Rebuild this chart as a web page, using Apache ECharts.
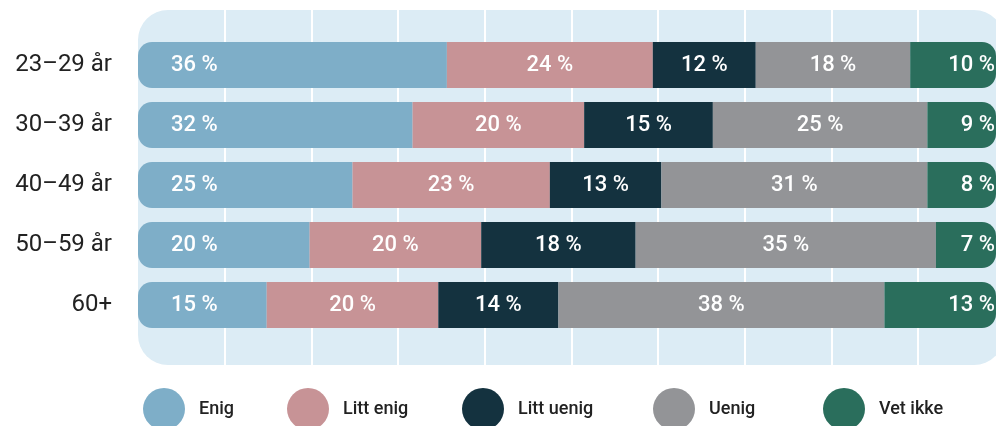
<!DOCTYPE html>
<html>
<head>
<meta charset="utf-8">
<script src="https://cdn.jsdelivr.net/npm/echarts@6/dist/echarts.min.js"></script>
<style>
  html, body { margin: 0; padding: 0; background: #fff; }
  #chart { width: 996px; height: 426px; }
</style>
</head>
<body>
<div id="chart"></div>
<script>
var categories = ["23–29 år", "30–39 år", "40–49 år", "50–59 år", "60+"];
var seriesNames = ["Enig", "Litt enig", "Litt uenig", "Uenig", "Vet ikke"];
var enig = [36, 32, 25, 20, 15];
var littEnig = [24, 20, 23, 20, 20];
var littUenig = [12, 15, 13, 18, 14];
var uenig = [18, 25, 31, 35, 38];
var vetIkke = [10, 9, 8, 7, 13];

var colors = ["#7eaec8", "#c79396", "#14323f", "#939497", "#2a6e5c"];
var legendLeft = [143, 287, 462, 653, 823];

var myChart = echarts.init(document.getElementById("chart"));

var values = [enig, littEnig, littUenig, uenig, vetIkke];
var series = values.map(function (arr, i) {
  var label = {
    show: true,
    position: "inside",
    color: "#fff",
    fontFamily: "Roboto",
    fontSize: 22,
    fontWeight: 500,
    formatter: "{c} %",
  };
  var radius = 0;
  if (i === 0) {
    label.position = "insideLeft";
    label.distance = 33;
    radius = [14, 0, 0, 14];
  }
  if (i === 4) {
    label.position = "insideRight";
    label.distance = 1;
    radius = [0, 14, 14, 0];
  }
  return {
    name: seriesNames[i],
    type: "bar",
    stack: "total",
    xAxisIndex: 0,
    yAxisIndex: 0,
    barWidth: 46,
    data: arr,
    itemStyle: { color: colors[i], borderRadius: radius },
    label: label,
    z: 3,
  };
});

var legends = seriesNames.map(function (name, i) {
  return {
    left: legendLeft[i],
    top: 388,
    padding: 0,
    data: [name],
    icon: "circle",
    itemWidth: 42,
    itemHeight: 42,
    selectedMode: false,
    textStyle: {
      color: "#222",
      fontFamily: "Roboto",
      fontSize: 18,
      fontWeight: 500,
      padding: [0, 0, 0, 9],
    },
  };
});

var option = {
  animation: false,
  color: colors,
  graphic: [
    {
      type: "rect",
      left: 138,
      top: 10,
      z: -10,
      shape: { width: 866, height: 355, r: 30 },
      style: { fill: "#dcecf5" },
    },
  ],
  grid: [
    { left: 138, right: 0, top: 35, bottom: 91 },
    { left: 138, right: 0, top: 10, bottom: 61 },
  ],
  legend: legends,
  xAxis: [
    { type: "value", gridIndex: 0, min: 0, max: 100, show: false },
    {
      type: "value",
      gridIndex: 1,
      min: 0,
      max: 99,
      interval: 10,
      axisLabel: { show: false },
      axisLine: { show: false },
      axisTick: { show: false },
      splitLine: {
        show: true,
        showMinLine: false,
        showMaxLine: false,
        lineStyle: { color: "#ffffff", width: 2 },
      },
    },
  ],
  yAxis: [
    {
      type: "category",
      gridIndex: 0,
      inverse: true,
      data: categories,
      axisLine: { show: false },
      axisTick: { show: false },
      axisLabel: {
        color: "#222",
        fontFamily: "Roboto",
        fontSize: 24,
        margin: 26,
      },
    },
    { type: "value", gridIndex: 1, show: false },
  ],
  series: series,
};
myChart.setOption(option);
</script>
</body>
</html>
